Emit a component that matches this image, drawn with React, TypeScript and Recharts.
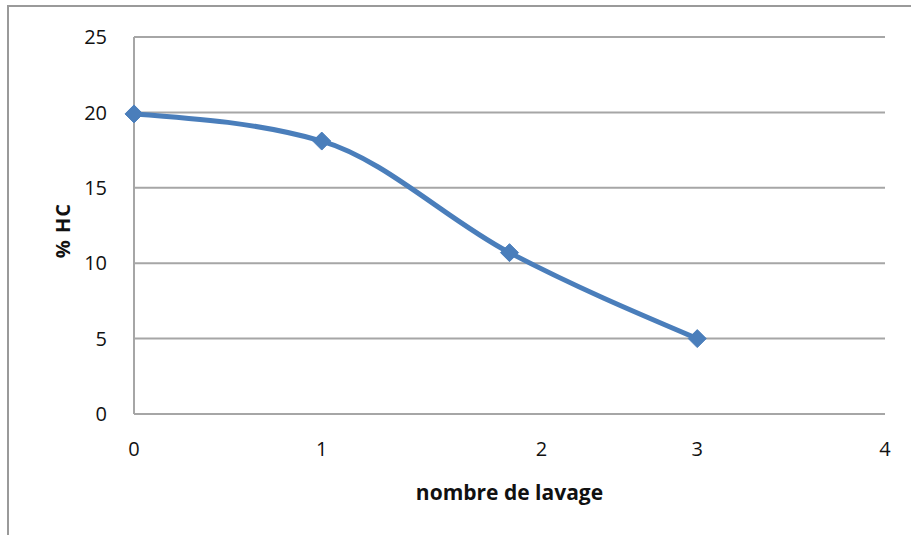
import React from "react";
import { LineChart, Line, XAxis, YAxis, CartesianGrid } from "recharts";

const washCounts = [0, 1, 2, 3];
const hcPercent = [19.9, 18.1, 10.7, 5.0];
const xTickPositions = [0, 1, 2.17, 3, 4];
const xTickLabels = ["0", "1", "2", "3", "4"];
const yTicks = [0, 5, 10, 15, 20, 25];

const data = washCounts.map((x, i) => ({ x, hc: hcPercent[i] }));

const BLUE = "#4a7ebb";
const GRID = "#a6a6a6";
const FONT = "'Open Sans', sans-serif";

const Diamond = (props: any) => {
  const { cx, cy } = props;
  if (cx == null || cy == null) return null;
  const r = 9;
  return (
    <polygon
      points={`${cx},${cy - r} ${cx + r},${cy} ${cx},${cy + r} ${cx - r},${cy}`}
      fill={BLUE}
      stroke={BLUE}
      strokeWidth={1}
    />
  );
};

const YLabel = (props: any) => {
  const vb = props.viewBox || {};
  const x = 62;
  const y = (vb.y ?? 37) + (vb.height ?? 377) / 2 + 5;
  return (
    <text
      x={x}
      y={y}
      transform={`rotate(-90 ${x} ${y})`}
      textAnchor="middle"
      dominantBaseline="central"
      fontFamily={FONT}
      fontWeight={700}
      fontSize={20}
      letterSpacing={1}
      fill="#111"
    >
      % HC
    </text>
  );
};

export default function App() {
  return (
    <div
      style={{
        position: "absolute",
        left: 0,
        top: 0,
        width: 911,
        height: 535,
        background: "#fff",
        overflow: "hidden",
      }}
    >
      <div
        style={{
          position: "absolute",
          left: 7,
          top: 5,
          width: 910,
          height: 540,
          borderTop: "2px solid #9a9a9a",
          borderLeft: "2px solid #9a9a9a",
        }}
      />
      <div style={{ position: "absolute", left: 0, top: 0 }}>
        <LineChart
          width={911}
          height={535}
          data={data}
          margin={{ top: 37, right: 26, bottom: 0, left: 0 }}
        >
          <CartesianGrid vertical={false} stroke={GRID} strokeWidth={2} />
          <XAxis
            dataKey="x"
            type="number"
            domain={[0, 4]}
            ticks={xTickPositions}
            tickFormatter={(v: number) => xTickLabels[xTickPositions.indexOf(v)] ?? ""}
            interval={0}
            height={121}
            axisLine={{ stroke: GRID, strokeWidth: 2 }}
            tickLine={false}
            tickSize={0}
            tickMargin={28}
            tick={{ fill: "#111", fontFamily: FONT, fontSize: 20 }}
            label={{
              value: "nombre de lavage",
              position: "insideBottom",
              offset: 35,
              fill: "#111",
              fontFamily: FONT,
              fontWeight: 700,
              fontSize: 21,
            }}
          />
          <YAxis
            type="number"
            domain={[0, 25]}
            ticks={yTicks}
            interval={0}
            width={134}
            axisLine={{ stroke: GRID, strokeWidth: 2 }}
            tickLine={false}
            tickSize={0}
            tickMargin={27}
            tick={{ fill: "#111", fontFamily: FONT, fontSize: 20 }}
            label={<YLabel />}
          />
          <Line
            type="monotone"
            dataKey="hc"
            stroke={BLUE}
            strokeWidth={5}
            dot={<Diamond />}
            activeDot={false}
            isAnimationActive={false}
          />
        </LineChart>
      </div>
    </div>
  );
}
